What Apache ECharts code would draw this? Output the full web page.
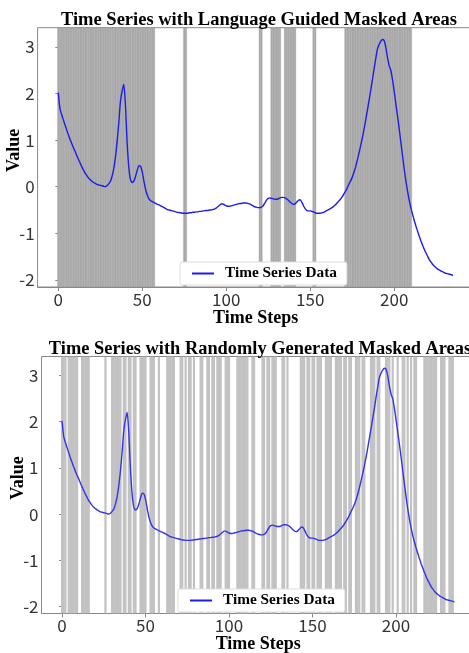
<!DOCTYPE html>
<html>
<head>
<meta charset="utf-8">
<script src="https://cdn.jsdelivr.net/npm/echarts@6/dist/echarts.min.js"></script>
<style>
  html, body { margin: 0; padding: 0; background: #fff; }
  #main { width: 469px; height: 653px; }
</style>
</head>
<body>
<div id="main"></div>
<script>
// series values, one per time step (0..235)
const seriesValues = [
  2.02, 1.68, 1.55, 1.44, 1.33, 1.22, 1.12, 1.02, 0.93, 0.84,
  0.76, 0.67, 0.59, 0.51, 0.43, 0.36, 0.29, 0.24, 0.19, 0.15,
  0.12, 0.09, 0.07, 0.05, 0.04, 0.03, 0.02, 0.01, 0.00, 0.02,
  0.06, 0.11, 0.22, 0.38, 0.62, 0.95, 1.35, 1.82, 2.05, 2.20,
  1.75, 0.95, 0.42, 0.15, 0.09, 0.12, 0.22, 0.35, 0.45, 0.44,
  0.32, 0.12, -0.06, -0.18, -0.26, -0.30, -0.32, -0.34, -0.36, -0.38,
  -0.39, -0.41, -0.43, -0.45, -0.47, -0.49, -0.50, -0.51, -0.52, -0.53,
  -0.54, -0.55, -0.56, -0.56, -0.57, -0.57, -0.57, -0.57, -0.56, -0.56,
  -0.55, -0.55, -0.54, -0.54, -0.53, -0.53, -0.52, -0.52, -0.51, -0.51,
  -0.50, -0.50, -0.49, -0.48, -0.46, -0.43, -0.40, -0.37, -0.37, -0.39,
  -0.41, -0.42, -0.42, -0.41, -0.40, -0.39, -0.38, -0.37, -0.36, -0.36,
  -0.35, -0.35, -0.35, -0.36, -0.37, -0.39, -0.41, -0.43, -0.44, -0.45,
  -0.45, -0.44, -0.41, -0.35, -0.29, -0.25, -0.24, -0.25, -0.26, -0.27,
  -0.27, -0.26, -0.24, -0.23, -0.23, -0.24, -0.26, -0.29, -0.33, -0.36,
  -0.38, -0.37, -0.33, -0.29, -0.28, -0.33, -0.41, -0.47, -0.51, -0.52,
  -0.52, -0.53, -0.54, -0.56, -0.57, -0.57, -0.57, -0.56, -0.55, -0.53,
  -0.51, -0.49, -0.47, -0.45, -0.42, -0.39, -0.35, -0.31, -0.27, -0.22,
  -0.16, -0.10, -0.03, 0.05, 0.12, 0.20, 0.30, 0.42, 0.56, 0.71,
  0.87, 1.04, 1.22, 1.42, 1.63, 1.84, 2.06, 2.28, 2.52, 2.74,
  2.95, 3.05, 3.12, 3.16, 3.14, 3.00, 2.78, 2.60, 2.50, 2.30,
  2.05, 1.78, 1.52, 1.24, 0.95, 0.66, 0.38, 0.12, -0.10, -0.30,
  -0.46, -0.60, -0.73, -0.85, -0.96, -1.07, -1.17, -1.26, -1.35, -1.43,
  -1.50, -1.57, -1.62, -1.67, -1.71, -1.74, -1.77, -1.79, -1.81, -1.83,
  -1.85, -1.86, -1.87, -1.88, -1.89, -1.90
];

// masked time steps, as inclusive [start, end] ranges
const guidedMaskRanges = [
  [0, 57], [75, 76], [120, 121], [127, 132], [135, 141], [152, 153], [171, 210]
];
const randomMaskRanges = [
  [0, 2], [4, 9], [12, 16], [26, 26], [30, 35], [37, 38], [40, 41], [43, 44],
  [47, 50], [53, 55], [58, 58], [63, 67], [71, 72], [74, 74], [76, 77], [79, 79],
  [83, 84], [87, 88], [90, 91], [93, 95], [98, 100], [105, 111], [114, 115],
  [120, 121], [123, 124], [126, 128], [132, 133], [135, 135], [143, 145],
  [147, 148], [150, 151], [153, 155], [158, 161], [164, 167], [169, 170],
  [172, 173], [176, 178], [180, 181], [185, 187], [189, 190], [194, 196],
  [198, 198], [201, 201], [204, 205], [207, 207], [209, 209], [211, 212],
  [217, 224], [227, 229], [232, 234]
];

const xTicks = [0, 50, 100, 150, 200];
const yTicks = [-2, -1, 0, 1, 2, 3];

const titles = [
  'Time Series with Language Guided Masked Areas',
  'Time Series with Randomly Generated Masked Areas'
];
const seriesName = 'Time Series Data';

const lineData = seriesValues.map((v, i) => [i, v]);
const expand = (ranges) => {
  const out = [];
  ranges.forEach(([a, b]) => {
    for (let i = a; i <= b; i++) out.push([i, 0]);
  });
  return out;
};

const serif = 'Liberation Serif';
const sans = 'Noto Sans CJK SC';

function maskRender(fill, stroke, half) {
  return function (params, api) {
    const i = api.value(0);
    const cs = params.coordSys;
    const x0 = api.coord([i - half, 0])[0];
    const x1 = api.coord([i + half, 0])[0];
    return {
      type: 'rect',
      shape: { x: x0, y: cs.y, width: x1 - x0, height: cs.height },
      style: { fill: fill, stroke: stroke, lineWidth: stroke ? 0.4 : 0 }
    };
  };
}

function xAxis(gridIndex) {
  return {
    type: 'value',
    gridIndex,
    min: -12.3,
    max: 247.3,
    name: 'Time Steps',
    nameLocation: 'middle',
    nameGap: 22,
    nameMoveOverlap: false,
    nameTextStyle: { fontFamily: serif, fontWeight: 'bold', fontSize: 18, color: '#000' },
    axisLine: { show: true, onZero: false, lineStyle: { color: '#888', width: 1 } },
    axisTick: { show: true, length: 4, customValues: xTicks, lineStyle: { color: '#888' } },
    axisLabel: { customValues: xTicks, margin: 4, fontFamily: sans, fontSize: 17, color: '#333' },
    splitLine: { show: false }
  };
}

function yAxis(gridIndex) {
  return {
    type: 'value',
    gridIndex,
    min: -2.153,
    max: 3.413,
    name: 'Value',
    nameLocation: 'middle',
    nameGap: 14,
    nameRotate: 90,
    nameMoveOverlap: false,
    nameTextStyle: { fontFamily: serif, fontWeight: 'bold', fontSize: 18, color: '#000', padding: [0, 0, 0, 14] },
    axisLine: { show: true, lineStyle: { color: '#888', width: 1 } },
    axisTick: { show: true, length: 3, customValues: yTicks, lineStyle: { color: '#888' } },
    axisLabel: { customValues: yTicks, margin: 3, fontFamily: sans, fontSize: 17, color: '#333' },
    splitLine: { show: false }
  };
}

function legend(left, top) {
  return {
    left, top,
    data: [seriesName],
    icon: 'rect',
    itemWidth: 22,
    itemHeight: 2,
    itemGap: 10,
    padding: [4, 10, 4, 12],
    backgroundColor: '#fff',
    borderColor: '#ddd',
    borderWidth: 1,
    borderRadius: 2,
    textStyle: { fontFamily: serif, fontWeight: 'bold', fontSize: 15.3, color: '#000', padding: [0, 0, 0, 6] }
  };
}

const chart = echarts.init(document.getElementById('main'), null, { renderer: 'canvas' });

chart.setOption({
  animation: false,
  backgroundColor: '#fff',
  title: [
    { text: titles[0], left: 254, top: 6, textAlign: 'center',
      textStyle: { fontFamily: serif, fontWeight: 'bold', fontSize: 18.5, color: '#000' } },
    { text: titles[1], left: 255, top: 335, textAlign: 'center',
      textStyle: { fontFamily: serif, fontWeight: 'bold', fontSize: 18.4, color: '#000' } }
  ],
  legend: [legend(180, 262), legend(178, 589)],
  grid: [
    { left: 37.6, top: 27.7, width: 436, height: 259.3, show: true, borderColor: '#888', borderWidth: 1,
      outerBoundsMode: 'none', containLabel: false },
    { left: 41.5, top: 356.5, width: 433.5, height: 257, show: true, borderColor: '#888', borderWidth: 1,
      outerBoundsMode: 'none', containLabel: false }
  ],
  xAxis: [xAxis(0), xAxis(1)],
  yAxis: [yAxis(0), yAxis(1)],
  series: [
    {
      type: 'custom', xAxisIndex: 0, yAxisIndex: 0, z: 1, clip: true,
      renderItem: maskRender('#adadad', 'rgba(150,150,150,0.6)', 0.5),
      encode: { x: 0, y: 1 },
      data: expand(guidedMaskRanges)
    },
    {
      type: 'line', name: seriesName, xAxisIndex: 0, yAxisIndex: 0, z: 3,
      showSymbol: false, symbol: 'none', smooth: 0.2,
      lineStyle: { color: '#1c1ced', width: 1.4 },
      itemStyle: { color: '#1c1ced' },
      data: lineData
    },
    {
      type: 'custom', xAxisIndex: 1, yAxisIndex: 1, z: 1, clip: true,
      renderItem: maskRender('#c2c2c2', null, 0.65),
      encode: { x: 0, y: 1 },
      data: expand(randomMaskRanges)
    },
    {
      type: 'line', name: seriesName, xAxisIndex: 1, yAxisIndex: 1, z: 3,
      showSymbol: false, symbol: 'none', smooth: 0.2,
      lineStyle: { color: '#3333ee', width: 1.4 },
      itemStyle: { color: '#3333ee' },
      data: lineData
    }
  ]
});
</script>
</body>
</html>
